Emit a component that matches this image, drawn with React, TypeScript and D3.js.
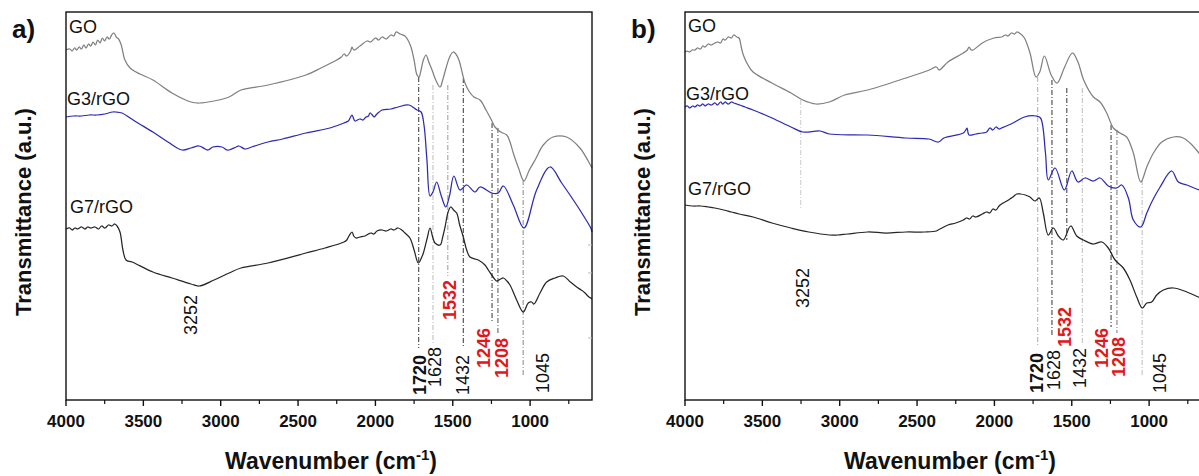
import React from 'react';
import * as d3 from 'd3';

// FTIR spectra, wavenumber (cm-1) vs transmittance (a.u.)
const MAJOR_TICKS = [4000, 3500, 3000, 2500, 2000, 1500, 1000];
const MINOR_TICKS = [3750, 3250, 2750, 2250, 1750, 1250, 750];
const Y_TICKS = [62, 127, 155];

const goA = [
  [4000, 350], [3975, 351], [3960, 349], [3945, 352], [3930, 350], [3915, 353], [3900, 351], [3885, 355],
  [3870, 352], [3855, 356], [3840, 354], [3825, 358], [3810, 355], [3795, 360], [3780, 357], [3765, 362],
  [3750, 359], [3735, 363], [3720, 361], [3705, 365], [3690, 367], [3675, 363], [3660, 361], [3645, 356],
  [3638, 352], [3619, 340], [3586, 332], [3522, 326], [3438, 320], [3315, 307], [3192, 298], [3140, 297],
  [3043, 299], [2946, 303], [2869, 310], [2694, 315], [2449, 325], [2352, 332], [2300, 336], [2250, 340],
  [2220, 343], [2203, 346], [2185, 344], [2160, 349], [2151, 353], [2140, 350], [2100, 354], [2054, 359],
  [2030, 358], [2000, 362], [1980, 360], [1957, 363], [1930, 361], [1900, 365], [1880, 364], [1867, 368],
  [1840, 366], [1809, 364], [1790, 360], [1770, 353], [1750, 340], [1731, 325], [1718, 323], [1705, 330],
  [1690, 340], [1673, 345], [1655, 338], [1634, 330], [1610, 320], [1582, 313], [1565, 320], [1547, 330],
  [1520, 343], [1498, 348], [1480, 346], [1460, 340], [1440, 328], [1421, 317], [1392, 308], [1363, 303],
  [1324, 300], [1285, 290], [1250, 280], [1227, 273], [1190, 268], [1151, 265], [1130, 258], [1109, 247],
  [1075, 232], [1040, 219], [1005, 230], [968, 240], [915, 255], [852, 263], [764, 263], [678, 252],
  [607, 234], [600, 232],
];

const g3A = [
  [4000, 283], [3950, 284], [3900, 284], [3850, 285], [3800, 285], [3750, 286], [3700, 288], [3677, 288],
  [3638, 287], [3586, 282], [3535, 277], [3438, 268], [3341, 258], [3250, 250], [3192, 252], [3140, 254],
  [3100, 251], [3082, 250], [3050, 253], [2992, 253], [2960, 250], [2946, 250], [2900, 253], [2882, 254],
  [2843, 251], [2800, 253], [2694, 258], [2600, 261], [2449, 267], [2294, 272], [2203, 277], [2175, 279],
  [2164, 282], [2151, 285], [2140, 281], [2132, 279], [2100, 281], [2080, 280], [2061, 283], [2045, 284],
  [2035, 287], [2020, 285], [2009, 283], [1990, 286], [1957, 290], [1900, 291], [1854, 293], [1783, 295],
  [1731, 290], [1705, 288], [1686, 275], [1667, 240], [1647, 204], [1628, 208], [1604, 218], [1576, 205],
  [1545, 193], [1520, 205], [1493, 224], [1453, 210], [1410, 215], [1356, 208], [1324, 213], [1248, 207],
  [1206, 207], [1173, 214], [1109, 195], [1040, 172], [958, 210], [872, 233], [796, 217], [699, 195],
  [650, 183], [608, 172], [600, 168],
];

const g7A = [
  [4000, 171], [3975, 172], [3960, 170], [3942, 172], [3925, 171], [3900, 173], [3877, 171], [3860, 173],
  [3840, 172], [3813, 173], [3790, 171], [3770, 174], [3748, 172], [3725, 175], [3703, 174], [3685, 176],
  [3670, 174], [3651, 168], [3632, 150], [3612, 140], [3573, 138], [3438, 128], [3315, 122], [3192, 116],
  [3140, 114], [3043, 120], [2946, 127], [2869, 132], [2694, 137], [2449, 147], [2326, 152], [2203, 158],
  [2185, 160], [2171, 164], [2151, 168], [2140, 164], [2126, 162], [2100, 163], [2067, 164], [2045, 166],
  [2029, 167], [2010, 166], [1990, 169], [1957, 170], [1930, 169], [1900, 171], [1880, 170], [1854, 172],
  [1830, 170], [1809, 167], [1777, 162], [1750, 150], [1723, 137], [1700, 143], [1690, 147], [1665, 162],
  [1647, 172], [1630, 163], [1615, 157], [1582, 155], [1565, 163], [1550, 173], [1530, 188], [1513, 193],
  [1495, 190], [1475, 187], [1455, 175], [1432, 163], [1410, 150], [1389, 143], [1335, 140], [1292, 135],
  [1270, 130], [1248, 125], [1216, 119], [1190, 121], [1173, 122], [1150, 119], [1130, 115], [1087, 100],
  [1044, 88], [1012, 97], [990, 98], [975, 96], [936, 107], [893, 118], [840, 122], [786, 124],
  [740, 118], [699, 113], [670, 110], [645, 107], [620, 103], [608, 102], [600, 101],
];

const goB = [
  [4000, 348], [3985, 349], [3970, 348], [3955, 350], [3935, 350], [3920, 352], [3900, 351], [3885, 354],
  [3871, 353], [3850, 356], [3830, 355], [3806, 357], [3790, 358], [3770, 357], [3755, 361], [3741, 360],
  [3720, 363], [3700, 362], [3685, 365], [3665, 363], [3651, 362], [3635, 352], [3623, 345], [3593, 335],
  [3560, 328], [3438, 317], [3315, 307], [3239, 300], [3153, 296], [3067, 298], [2968, 305], [2819, 310],
  [2572, 322], [2420, 330], [2375, 333], [2358, 330], [2300, 338], [2201, 347], [2175, 350], [2164, 353],
  [2150, 350], [2138, 350], [2078, 357], [2003, 362], [1954, 363], [1930, 365], [1912, 364], [1890, 367],
  [1870, 366], [1855, 368], [1830, 366], [1806, 362], [1770, 347], [1731, 323], [1707, 328], [1677, 344],
  [1633, 325], [1595, 317], [1546, 333], [1496, 347], [1460, 338], [1423, 320], [1360, 303], [1317, 298],
  [1274, 287], [1231, 272], [1188, 267], [1145, 263], [1102, 247], [1054, 218], [1015, 233], [972, 247],
  [918, 258], [843, 263], [779, 262], [736, 257], [678, 247], [600, 230],
];

const g3B = [
  [4000, 293], [3985, 294], [3970, 292], [3950, 294], [3935, 293], [3920, 295], [3903, 294], [3885, 296],
  [3870, 294], [3850, 296], [3830, 295], [3806, 297], [3790, 295], [3770, 298], [3755, 296], [3741, 298],
  [3720, 296], [3700, 298], [3685, 297], [3665, 296], [3645, 295], [3612, 293], [3560, 290], [3438, 282],
  [3315, 273], [3239, 268], [3127, 269], [3067, 266], [2819, 265], [2572, 262], [2424, 261], [2362, 258],
  [2326, 262], [2201, 267], [2185, 270], [2177, 272], [2170, 267], [2164, 265], [2120, 266], [2078, 267],
  [2050, 268], [2029, 272], [2010, 270], [1990, 273], [1970, 271], [1954, 272], [1880, 277], [1806, 283],
  [1731, 284], [1702, 282], [1670, 247], [1652, 220], [1608, 232], [1548, 210], [1500, 229], [1460, 218],
  [1415, 222], [1361, 219], [1317, 222], [1264, 214], [1210, 212], [1177, 215], [1134, 202], [1102, 180],
  [1054, 173], [1015, 187], [983, 198], [929, 213], [854, 229], [811, 218], [756, 215], [677, 210],
  [600, 207],
];

const g7B = [
  [4000, 195], [3950, 194], [3900, 194], [3850, 193], [3808, 192], [3750, 190], [3700, 188], [3650, 186],
  [3560, 183], [3438, 177], [3315, 172], [3200, 168], [3067, 165], [3017, 165], [2950, 166], [2819, 168],
  [2700, 167], [2572, 168], [2450, 168], [2375, 169], [2352, 171], [2300, 175], [2250, 177], [2201, 180],
  [2180, 182], [2160, 181], [2140, 184], [2120, 183], [2078, 186], [2050, 188], [2030, 187], [2010, 191],
  [1990, 190], [1970, 194], [1954, 196], [1920, 199], [1900, 201], [1880, 203], [1856, 206], [1831, 206],
  [1800, 205], [1770, 203], [1738, 199], [1710, 202], [1684, 187], [1652, 165], [1619, 172], [1587, 164],
  [1555, 160], [1507, 174], [1468, 164], [1425, 160], [1361, 156], [1306, 158], [1264, 152], [1220, 140],
  [1167, 132], [1124, 120], [1080, 103], [1044, 92], [1015, 97], [983, 98], [951, 105], [908, 110],
  [843, 112], [756, 108], [681, 103], [600, 98],
];

// dash-dot guide lines: wavenumber, top and bottom (a.u.)
const guidesA = [
  { wn: 1720, top: 323, bottom: 52, stroke: '#333' },
  { wn: 1628, top: 315, bottom: 55, stroke: '#bbb' },
  { wn: 1532, top: 315, bottom: 124, stroke: '#999' },
  { wn: 1432, top: 322, bottom: 54, stroke: '#333' },
  { wn: 1246, top: 277, bottom: 77, stroke: '#333' },
  { wn: 1208, top: 272, bottom: 67, stroke: '#555' },
  { wn: 1045, top: 220, bottom: 23, stroke: '#888' },
];
const guidesB = [
  { wn: 3252, top: 300, bottom: 190, stroke: '#ccc' },
  { wn: 1720, top: 323, bottom: 53, stroke: '#aaa' },
  { wn: 1628, top: 320, bottom: 63, stroke: '#333' },
  { wn: 1532, top: 312, bottom: 160, stroke: '#333' },
  { wn: 1432, top: 312, bottom: 57, stroke: '#bbb' },
  { wn: 1246, top: 275, bottom: 73, stroke: '#333' },
  { wn: 1208, top: 270, bottom: 67, stroke: '#777' },
  { wn: 1045, top: 220, bottom: 23, stroke: '#bbb' },
];

const RED = '#e3161b';
// peak labels (rotated), anchored at their lower end
const peaksA = [
  { text: '3252', wn: 3192, v: 65, color: '#111', bold: false },
  { text: '1720', wn: 1716, v: 5, color: '#111', bold: true },
  { text: '1628', wn: 1615, v: 13, color: '#111', bold: false },
  { text: '1532', wn: 1518, v: 80, color: RED, bold: true },
  { text: '1432', wn: 1436, v: 5, color: '#111', bold: false },
  { text: '1246', wn: 1303, v: 32, color: RED, bold: true },
  { text: '1208', wn: 1184, v: 22, color: RED, bold: true },
  { text: '1045', wn: 917, v: 7, color: '#111', bold: false },
];
const peaksB = [
  { text: '3252', wn: 3240, v: 92, color: '#111', bold: false },
  { text: '1720', wn: 1727, v: 7, color: '#111', bold: true },
  { text: '1628', wn: 1615, v: 10, color: '#111', bold: false },
  { text: '1532', wn: 1544, v: 53, color: RED, bold: true },
  { text: '1432', wn: 1447, v: 12, color: '#111', bold: false },
  { text: '1246', wn: 1307, v: 32, color: RED, bold: true },
  { text: '1208', wn: 1201, v: 23, color: RED, bold: true },
  { text: '1045', wn: 930, v: 7, color: '#111', bold: false },
];

const COLORS = { GO: '#808080', G3: '#2b2bb5', G7: '#262626' };

const FONT = '"Liberation Sans", Arial, sans-serif';
const PLOT_W = 526;
const PLOT_TOP = 12;
const PLOT_BOTTOM = 400;

type Pt = number[];

function Panel({ left, tag, series, guides, peaks, names }: any) {
  const x = d3.scaleLinear().domain([4000, 600]).range([left, left + PLOT_W]);
  const y = d3.scaleLinear().domain([0, 388]).range([PLOT_BOTTOM, PLOT_TOP]);
  const line = d3
    .line<Pt>()
    .x(d => x(d[0]))
    .y(d => y(d[1]))
    .curve(d3.curveCatmullRom.alpha(0.5));

  return (
    <g>
      {guides.map((g: any, i: number) => (
        <line
          key={'g' + i}
          x1={x(g.wn)}
          x2={x(g.wn)}
          y1={y(g.top)}
          y2={y(g.bottom)}
          stroke={g.stroke}
          strokeWidth={1}
          strokeDasharray="5 2 1 2"
        />
      ))}

      {series.map((s: any) => (
        <path key={s.name} d={line(s.data) || ''} fill="none" stroke={s.color} strokeWidth={1.25} />
      ))}

      <rect
        x={left}
        y={PLOT_TOP}
        width={PLOT_W}
        height={PLOT_BOTTOM - PLOT_TOP}
        fill="none"
        stroke="#111"
        strokeWidth={1.4}
      />

      {Y_TICKS.map(t => (
        <line key={'y' + t} x1={left + PLOT_W} x2={left + PLOT_W - 4} y1={y(t)} y2={y(t)} stroke="#bbb" />
      ))}

      {MAJOR_TICKS.map(t => (
        <g key={'M' + t}>
          <line x1={x(t)} x2={x(t)} y1={PLOT_BOTTOM} y2={PLOT_BOTTOM + 6} stroke="#111" strokeWidth={1.4} />
          <text
            x={x(t)}
            y={427}
            textAnchor="middle"
            fontFamily={FONT}
            fontWeight="bold"
            fontSize={17}
            fill="#111"
          >
            {t}
          </text>
        </g>
      ))}
      {MINOR_TICKS.map(t => (
        <line key={'m' + t} x1={x(t)} x2={x(t)} y1={PLOT_BOTTOM} y2={PLOT_BOTTOM + 4} stroke="#111" strokeWidth={1.2} />
      ))}

      {peaks.map((p: any) => (
        <text
          key={'p' + p.text}
          transform={`translate(${x(p.wn)},${y(p.v)}) rotate(-90)`}
          dy="0.36em"
          fontFamily={FONT}
          fontSize={18}
          fontWeight={p.bold ? 'bold' : 'normal'}
          fill={p.color}
        >
          {p.text}
        </text>
      ))}

      {names.map((n: any) => (
        <text key={'n' + n.text} x={left + n.dx} y={n.y} fontFamily={FONT} fontSize={18} fill="#111">
          {n.text}
        </text>
      ))}

      <text
        transform={`translate(${left - 35},212) rotate(-90)`}
        textAnchor="middle"
        fontFamily={FONT}
        fontWeight="bold"
        fontSize={22}
        fill="#111"
      >
        Transmittance (a.u.)
      </text>

      <text x={left + 265} y={469} textAnchor="middle" fontFamily={FONT} fontWeight="bold" fontSize={23} fill="#111">
        <tspan>Wavenumber (cm</tspan>
        <tspan dy={-9} fontSize={15}>-1</tspan>
        <tspan dy={9}>)</tspan>
      </text>

      <text x={left - 54} y={38} fontFamily={FONT} fontWeight="bold" fontSize={26} fill="#111">
        {tag}
      </text>
    </g>
  );
}

export default function App() {
  const seriesA = [
    { name: 'GO', data: goA, color: COLORS.GO },
    { name: 'G3', data: g3A, color: COLORS.G3 },
    { name: 'G7', data: g7A, color: COLORS.G7 },
  ];
  const seriesB = [
    { name: 'GO', data: goB, color: COLORS.GO },
    { name: 'G3', data: g3B, color: COLORS.G3 },
    { name: 'G7', data: g7B, color: COLORS.G7 },
  ];
  const namesA = [
    { text: 'GO', dx: 3, y: 33 },
    { text: 'G3/rGO', dx: 1, y: 105 },
    { text: 'G7/rGO', dx: 4, y: 213 },
  ];
  const namesB = [
    { text: 'GO', dx: 3, y: 32 },
    { text: 'G3/rGO', dx: 1, y: 100 },
    { text: 'G7/rGO', dx: 3, y: 195 },
  ];

  return (
    <svg
      width={1199}
      height={476}
      style={{ position: 'absolute', left: 0, top: 0, background: '#fff' }}
    >
      <rect width={1199} height={476} fill="#fff" />
      <Panel left={66} tag="a)" series={seriesA} guides={guidesA} peaks={peaksA} names={namesA} />
      <Panel left={685} tag="b)" series={seriesB} guides={guidesB} peaks={peaksB} names={namesB} />
    </svg>
  );
}
